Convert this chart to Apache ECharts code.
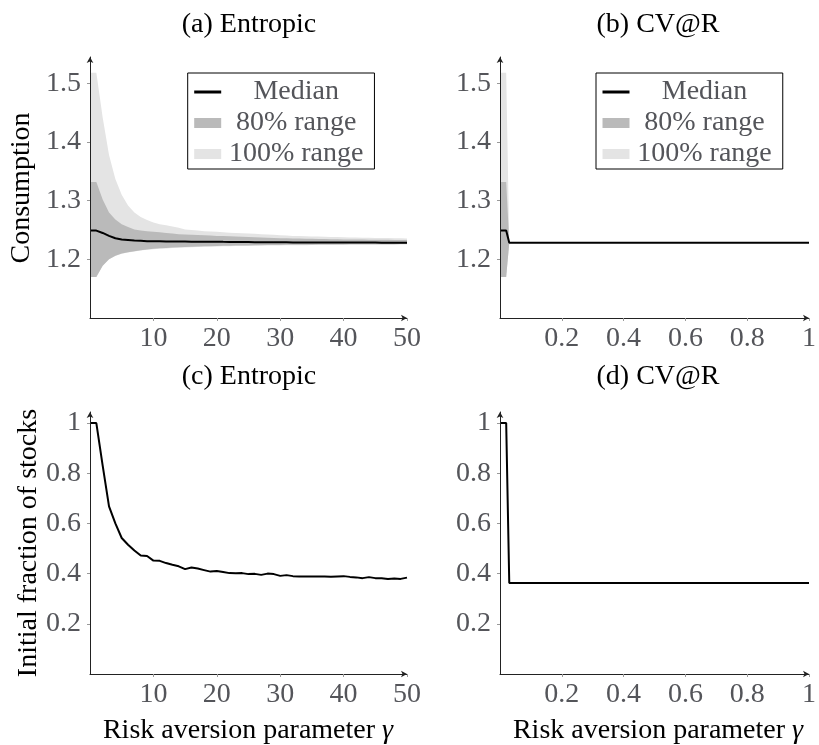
<!DOCTYPE html>
<html>
<head>
<meta charset="utf-8">
<script src="https://cdn.jsdelivr.net/npm/echarts@6/dist/echarts.min.js"></script>
<style>
html, body { margin: 0; }
#main { width: 819px; height: 745px; }
</style>
</head>
<body>
<div id="main"></div>
<script>
// risk aversion parameter for the entropic panels
var gammas = [0, 1, 2, 3, 4, 5, 6, 7, 8, 9, 10, 11, 12, 13, 14, 15, 16, 17, 18, 19, 20,
    21, 22, 23, 24, 25, 26, 27, 28, 29, 30, 31, 32, 33, 34, 35, 36, 37, 38, 39, 40,
    41, 42, 43, 44, 45, 46, 47, 48, 49, 50];

// (a) consumption, entropic
var entMedian = [1.249, 1.249, 1.245, 1.240, 1.236, 1.234, 1.233, 1.232, 1.2315, 1.231, 1.231,
    1.2308, 1.2306, 1.2305, 1.2304, 1.2303, 1.2302, 1.2301, 1.230, 1.230, 1.230,
    1.2298, 1.2297, 1.2296, 1.2295, 1.2294, 1.2293, 1.2292, 1.2292, 1.2291, 1.229,
    1.229, 1.2289, 1.2289, 1.2288, 1.2288, 1.2288, 1.2287, 1.2287, 1.2287, 1.2287,
    1.2286, 1.2286, 1.2286, 1.2286, 1.2286, 1.2285, 1.2285, 1.2285, 1.2285, 1.2285];
var entUp80 = [1.332, 1.332, 1.302, 1.280, 1.268, 1.260, 1.255, 1.251, 1.249, 1.248, 1.247,
    1.246, 1.245, 1.244, 1.243, 1.2425, 1.242, 1.2415, 1.241, 1.2405, 1.240,
    1.2396, 1.2392, 1.2388, 1.2384, 1.238, 1.2376, 1.2372, 1.2368, 1.2364, 1.236,
    1.2358, 1.2356, 1.2354, 1.2352, 1.235, 1.2348, 1.2346, 1.2344, 1.2342, 1.234,
    1.2339, 1.2338, 1.2337, 1.2336, 1.2335, 1.2334, 1.2333, 1.2332, 1.2331, 1.233];
var entLo80 = [1.170, 1.170, 1.189, 1.200, 1.206, 1.210, 1.212, 1.214, 1.2155, 1.217, 1.218,
    1.219, 1.2195, 1.220, 1.2205, 1.221, 1.2215, 1.222, 1.2222, 1.2225, 1.2228,
    1.223, 1.2232, 1.2234, 1.2236, 1.2238, 1.224, 1.2242, 1.2244, 1.2245, 1.2246,
    1.2247, 1.2248, 1.2249, 1.225, 1.2251, 1.2252, 1.2253, 1.2254, 1.2255, 1.2255,
    1.2256, 1.2256, 1.2257, 1.2257, 1.2258, 1.2258, 1.2259, 1.2259, 1.226, 1.226];
var entUp100 = [1.518, 1.518, 1.442, 1.378, 1.337, 1.310, 1.292, 1.280, 1.272, 1.267, 1.263,
    1.260, 1.258, 1.256, 1.254, 1.251, 1.250, 1.249, 1.248, 1.2475, 1.247,
    1.246, 1.2455, 1.245, 1.2445, 1.244, 1.2435, 1.243, 1.2425, 1.242, 1.241,
    1.2405, 1.240, 1.2398, 1.2395, 1.239, 1.2388, 1.2385, 1.2382, 1.238, 1.2376,
    1.2374, 1.2372, 1.237, 1.2368, 1.2366, 1.2364, 1.2362, 1.236, 1.2358, 1.2355];
var entLo100 = [1.170, 1.170, 1.189, 1.200, 1.2055, 1.2095, 1.2115, 1.2135, 1.215, 1.2163, 1.2172,
    1.218, 1.2186, 1.2192, 1.2197, 1.2202, 1.2207, 1.2211, 1.2214, 1.2218, 1.2221,
    1.2223, 1.2225, 1.2227, 1.2229, 1.2231, 1.2233, 1.2235, 1.2236, 1.2237, 1.2238,
    1.2239, 1.224, 1.2241, 1.2242, 1.2243, 1.2244, 1.2245, 1.2246, 1.2247, 1.2247,
    1.2248, 1.2248, 1.2249, 1.2249, 1.225, 1.225, 1.2251, 1.2251, 1.2252, 1.2252];

// (c) initial fraction of stocks, entropic
var entStocks = [1.0, 1.0, 0.83, 0.668, 0.60, 0.542, 0.515, 0.492, 0.472, 0.470, 0.452,
    0.451, 0.442, 0.435, 0.429, 0.418, 0.424, 0.420, 0.414, 0.408, 0.410,
    0.406, 0.402, 0.401, 0.402, 0.398, 0.399, 0.395, 0.400, 0.398, 0.391,
    0.394, 0.390, 0.389, 0.389, 0.389, 0.389, 0.389, 0.388, 0.389, 0.390,
    0.387, 0.385, 0.382, 0.386, 0.382, 0.382, 0.379, 0.381, 0.379, 0.384];

// risk aversion parameter for the CV@R panels
var alphas = [0, 0.02, 0.03, 0.1, 0.2, 0.3, 0.4, 0.5, 0.6, 0.7, 0.8, 0.9, 1];

// (b) consumption, CV@R
var cvMedian = [1.249, 1.249, 1.2285, 1.2285, 1.2285, 1.2285, 1.2285, 1.2285, 1.2285, 1.2285, 1.2285, 1.2285, 1.2285];
var cvUp80 = [1.332, 1.332, 1.229, 1.229, 1.229, 1.229, 1.229, 1.229, 1.229, 1.229, 1.229, 1.229, 1.229];
var cvLo80 = [1.170, 1.170, 1.228, 1.228, 1.228, 1.228, 1.228, 1.228, 1.228, 1.228, 1.228, 1.228, 1.228];
var cvUp100 = [1.518, 1.518, 1.2292, 1.2292, 1.2292, 1.2292, 1.2292, 1.2292, 1.2292, 1.2292, 1.2292, 1.2292, 1.2292];
var cvLo100 = [1.170, 1.170, 1.2278, 1.2278, 1.2278, 1.2278, 1.2278, 1.2278, 1.2278, 1.2278, 1.2278, 1.2278, 1.2278];

// (d) initial fraction of stocks, CV@R
var cvStocks = [1.0, 1.0, 0.363, 0.363, 0.363, 0.363, 0.363, 0.363, 0.363, 0.363, 0.363, 0.363, 0.363];

var titles = ['(a) Entropic', '(b) CV@R', '(c) Entropic', '(d) CV@R'];
var consTicks = [1.2, 1.3, 1.4, 1.5];
var stockTicks = [0.2, 0.4, 0.6, 0.8, 1];
var gammaTicks = [10, 20, 30, 40, 50];
var alphaTicks = [0.2, 0.4, 0.6, 0.8, 1];

var LIGHT = '#e4e4e4';
var DARK = '#bababa';

function pairs(xs, ys) {
    var res = [];
    for (var i = 0; i < xs.length; i++) {
        res.push([xs[i], ys[i]]);
    }
    return res;
}

// y first, so that the stack runs on the y dimension
function pairsYX(xs, ys) {
    var res = [];
    for (var i = 0; i < xs.length; i++) {
        res.push([ys[i], xs[i]]);
    }
    return res;
}

function widths(up, lo) {
    var res = [];
    for (var i = 0; i < up.length; i++) {
        res.push(+(up[i] - lo[i]).toFixed(5));
    }
    return res;
}

function bandSeries(idx, xs, lo, up, name, color, stack) {
    return [{
        type: 'line', xAxisIndex: idx, yAxisIndex: idx, stack: stack,
        encode: { x: 1, y: 0 },
        symbol: 'none', lineStyle: { width: 0, opacity: 0 }, silent: true,
        data: pairsYX(xs, lo)
    }, {
        name: name, type: 'line', xAxisIndex: idx, yAxisIndex: idx, stack: stack,
        encode: { x: 1, y: 0 },
        symbol: 'none', color: color, silent: true,
        lineStyle: { width: 0, opacity: 0 },
        areaStyle: { color: color, opacity: 1 },
        data: pairsYX(xs, widths(up, lo))
    }];
}

function lineSeries(idx, xs, ys, name) {
    return {
        name: name, type: 'line', xAxisIndex: idx, yAxisIndex: idx,
        symbol: 'none', color: '#000', silent: true,
        lineStyle: { color: '#000', width: 2 },
        data: pairs(xs, ys)
    };
}

function makeX(idx, max, ticks) {
    return {
        type: 'value', gridIndex: idx, min: 0, max: max, z: 5,
        splitLine: { show: false },
        axisLine: { onZero: false, lineStyle: { color: '#222', width: 1 }, symbol: ['none', 'arrow'], symbolSize: [5, 6] },
        axisTick: { customValues: ticks, length: 3, lineStyle: { color: '#999' } },
        axisLabel: { customValues: ticks, margin: 7, fontFamily: 'Liberation Serif', fontSize: 28 }
    };
}

function makeY(idx, min, max, ticks) {
    return {
        type: 'value', gridIndex: idx, min: min, max: max, z: 5,
        splitLine: { show: false },
        axisLine: { onZero: false, lineStyle: { color: '#222', width: 1 }, symbol: ['none', 'arrow'], symbolSize: [5, 6] },
        axisTick: { customValues: ticks, length: 3, lineStyle: { color: '#999' } },
        axisLabel: { customValues: ticks, margin: 9, fontFamily: 'Liberation Serif', fontSize: 28 }
    };
}

function makeLegend(left) {
    return {
        left: left, top: 73, orient: 'vertical', selectedMode: false,
        itemGap: 3, itemWidth: 27, itemHeight: 10,
        padding: [5, 11, 1, 5],
        backgroundColor: '#fff',
        borderColor: '#000', borderWidth: 1,
        data: [
            { name: 'Median', itemStyle: { color: 'rgba(0,0,0,0)', borderWidth: 0 }, lineStyle: { color: '#000', width: 3 } },
            { name: '80% range', icon: 'rect', itemStyle: { color: DARK, borderWidth: 0 } },
            { name: '100% range', icon: 'rect', itemStyle: { color: LIGHT, borderWidth: 0 } }
        ],
        formatter: function (name) { return '{t|' + name + '}'; },
        textStyle: {
            fontFamily: 'Liberation Serif', fontSize: 28,
            rich: { t: { width: 140, align: 'center', fontFamily: 'Liberation Serif', fontSize: 28 } }
        }
    };
}

// plain text labels (titles and axis names)
function label(text, x, y, rotation) {
    return {
        type: 'text', x: x, y: y, rotation: rotation || 0, silent: true,
        style: {
            text: text, fontFamily: 'Liberation Serif', fontSize: 28, fill: '#000',
            align: 'center', verticalAlign: 'middle',
            rich: { i: { fontFamily: 'Liberation Serif', fontSize: 28, fontStyle: 'italic', fill: '#000' } }
        }
    };
}

var myChart = echarts.init(document.getElementById('main'));

var series = []
    .concat(bandSeries(0, gammas, entLo100, entUp100, '100% range', LIGHT, 'a100'))
    .concat(bandSeries(0, gammas, entLo80, entUp80, '80% range', DARK, 'a80'))
    .concat([lineSeries(0, gammas, entMedian, 'Median')])
    .concat(bandSeries(1, alphas, cvLo100, cvUp100, '100% range', LIGHT, 'b100'))
    .concat(bandSeries(1, alphas, cvLo80, cvUp80, '80% range', DARK, 'b80'))
    .concat([lineSeries(1, alphas, cvMedian, 'Median')])
    .concat([lineSeries(2, gammas, entStocks, 'stocks')])
    .concat([lineSeries(3, alphas, cvStocks, 'stocks')]);

var option = {
    animation: false,
    legend: [makeLegend(187.7), makeLegend(596)],
    grid: [
        { left: 90, top: 57, width: 317, height: 261 },
        { left: 500, top: 57, width: 317, height: 261 },
        { left: 90, top: 412, width: 317, height: 262 },
        { left: 500, top: 412, width: 317, height: 262 }
    ],
    xAxis: [
        makeX(0, 50, gammaTicks),
        makeX(1, 1, alphaTicks),
        makeX(2, 50, gammaTicks),
        makeX(3, 1, alphaTicks)
    ],
    yAxis: [
        makeY(0, 1.1, 1.545, consTicks),
        makeY(1, 1.1, 1.545, consTicks),
        makeY(2, 0, 1.044, stockTicks),
        makeY(3, 0, 1.044, stockTicks)
    ],
    graphic: [
        label(titles[0], 249, 25),
        label(titles[1], 658, 25),
        label(titles[2], 249, 377),
        label(titles[3], 658, 377),
        label('Consumption', 22, 188, Math.PI / 2),
        label('Initial fraction of stocks', 29, 543, Math.PI / 2),
        label('Risk aversion parameter {i|γ}', 248, 731),
        label('Risk aversion parameter {i|γ}', 658, 731)
    ],
    series: series
};

myChart.setOption(option);
</script>
</body>
</html>
